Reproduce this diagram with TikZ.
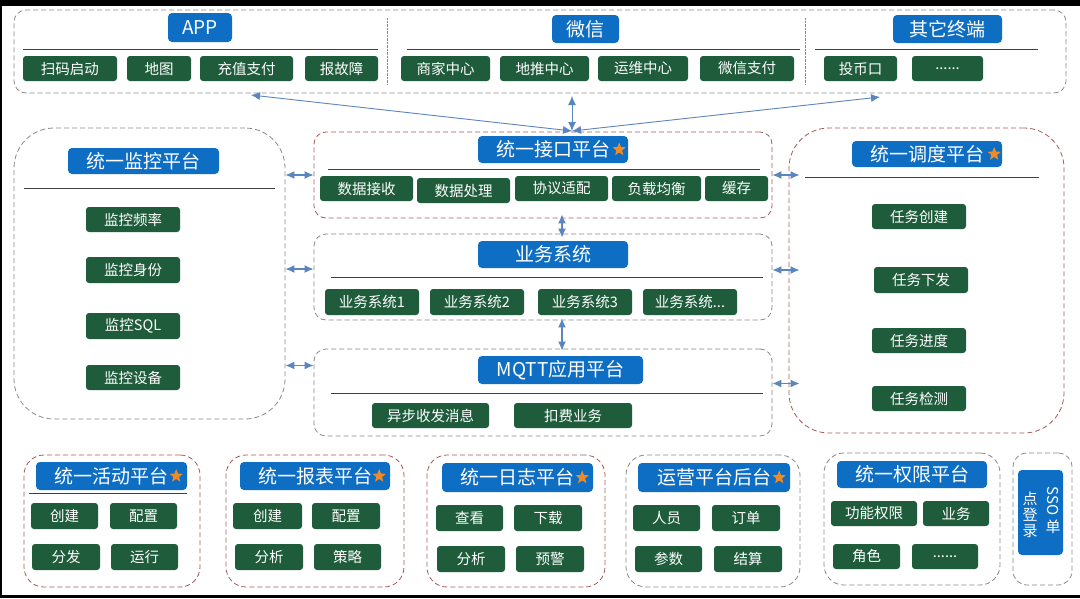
\documentclass[tikz,border=0pt]{standalone}
\usepackage{fontspec}
\setmainfont{Noto Sans CJK SC}
\usetikzlibrary{fit, calc, arrows.meta, shapes.geometric}
\definecolor{hdblue}{HTML}{0E6EC4}
\definecolor{gnbox}{HTML}{1E5C3B}
\definecolor{lnblue}{HTML}{5A85BE}
\definecolor{dashgray}{HTML}{8A8A8A}
\definecolor{dashred}{HTML}{A55B5B}
\definecolor{starorg}{HTML}{F08A24}
\newcommand{\pn}[4]{\node[#1, fit={(#3) (#4)}] (#2) {};}
\newcommand{\bx}[5]{\node[#1, fit={(#3) (#4)}] (#2) {};
  \node[#1 txt] (#2t) at (#2.center) {#5};}

\begin{document}
\begin{tikzpicture}[x=1pt, y=-1pt,
    panel/.style={draw=dashgray, line width=0.8pt, dash pattern=on 5pt off 3pt, rounded corners=#1, inner sep=0pt},
    panel/.default=12pt,
    rpanel/.style={panel=#1, draw=dashred},
    rpanel/.default=12pt,
    hdbox/.style={fill=hdblue, rounded corners=4pt, inner sep=0pt},
    hdbox txt/.style={text=white, inner sep=0pt, font=\fontsize{19}{22}\selectfont},
    gitem/.style={fill=gnbox, rounded corners=3pt, inner sep=0pt},
    gitem txt/.style={text=white, inner sep=0pt, font=\fontsize{14.5}{17}\selectfont},
    hline/.style={draw=black!75, line width=1pt},
    link/.style={draw=lnblue, line width=1.3pt, {Latex[length=9pt,width=8pt]}-{Latex[length=9pt,width=8pt]}},
    tlink/.style={link, line width=0.9pt},
    hstar/.style={star, star points=5, star point ratio=2.3, fill=starorg, inner sep=0pt, minimum size=14pt}]
        %sfondo
        \fill[black] (0,0) rectangle (1080,598);
        \fill[white] (2,6) rectangle (1080,595);
        \useasboundingbox (0,0) rectangle (1080,598);
        %terminali in alto
        \pn{panel}{top}{14,10}{1066,93}
        \draw[dashgray, densely dotted] (387,18) -- (387,84);
        \draw[dashgray, densely dotted] (805,18) -- (805,84);
        \bx{hdbox}{app}{168,13}{232,42}{APP}
        \draw[hline] (23,49) -- (378,49);
        \bx{gitem}{scan}{23,56}{117,81}{扫码启动}
        \bx{gitem}{map}{127,56}{191,81}{地图}
        \bx{gitem}{pay}{200,56}{293,81}{充值支付}
        \bx{gitem}{fault}{305,56}{378,81}{报故障}
        \bx{hdbox}{wx}{552,15}{619,43}{微信}
        \draw[hline] (407,49) -- (800,49);
        \bx{gitem}{shop}{401,56}{490,81}{商家中心}
        \bx{gitem}{push}{500,56}{589,81}{地推中心}
        \bx{gitem}{ops}{598,56}{688,81}{运维中心}
        \bx{gitem}{wxpay}{700,56}{794,81}{微信支付}
        \bx{hdbox}{other}{893,15}{1002,43}{其它终端}
        \draw[hline] (815,49) -- (1038,49);
        \bx{gitem}{coin}{824,56}{897,81}{投币口}
        \bx{gitem}{more}{912,56}{983,81}{......}
        %monitoraggio
        \pn{panel=40pt}{mon}{14,128}{285,419}
        \bx{hdbox}{monhd}{68,148}{219,174}{统一监控平台}
        \draw[hline] (24,188) -- (275,188);
        \bx{gitem}{freq}{86,207}{180,232}{监控频率}
        \bx{gitem}{ident}{86,257}{180,283}{监控身份}
        \bx{gitem}{sql}{86,313}{180,339}{监控SQL}
        \bx{gitem}{dev}{86,365}{180,390}{监控设备}
        %interfaccia
        \pn{rpanel}{jk}{314,132}{772,218}
        \bx{hdbox}{jkhd}{478,136}{628,163}{统一接口平台}
        \node[hstar] (jkstar) at ($(jkhd.east)+(-9,0)$) {};
        \draw[hline] (328,169) -- (760,169);
        \bx{gitem}{recv}{320,176}{413,201}{数据接收}
        \bx{gitem}{proc}{417,178}{510,203}{数据处理}
        \bx{gitem}{proto}{515,176}{608,201}{协议适配}
        \bx{gitem}{lb}{612,176}{701,201}{负载均衡}
        \bx{gitem}{cache}{705,176}{768,201}{缓存}
        %sistemi
        \pn{panel}{yw}{314,234}{772,320}
        \bx{hdbox}{ywhd}{478,241}{628,268}{业务系统}
        \draw[hline] (331,277) -- (763,277);
        \bx{gitem}{sys1}{325,289}{419,315}{业务系统1}
        \bx{gitem}{sys2}{430,289}{524,315}{业务系统2}
        \bx{gitem}{sys3}{538,289}{632,315}{业务系统3}
        \bx{gitem}{sysn}{643,289}{737,315}{业务系统...}
        %mqtt
        \pn{panel}{mq}{314,349}{772,436}
        \bx{hdbox}{mqhd}{478,356}{643,384}{MQTT应用平台}
        \draw[hline] (331,393) -- (763,393);
        \bx{gitem}{async}{372,403}{489,428}{异步收发消息}
        \bx{gitem}{fee}{514,403}{632,428}{扣费业务}
        %schedulazione
        \pn{rpanel=40pt}{dd}{789,128}{1064,433}
        \bx{hdbox}{ddhd}{852,141}{1002,167}{统一调度平台}
        \node[hstar] (ddstar) at ($(ddhd.east)+(-8,0)$) {};
        \draw[hline] (805,177) -- (1039,177);
        \bx{gitem}{tnew}{872,204}{966,229}{任务创建}
        \bx{gitem}{tsend}{874,267}{968,293}{任务下发}
        \bx{gitem}{tprog}{872,328}{966,353}{任务进度}
        \bx{gitem}{tchk}{872,386}{966,411}{任务检测}
        %frecce
        \coordinate (hub) at (572,131);
        \coordinate (tl) at (251,95);
        \coordinate (tm) at (572,96);
        \coordinate (tr) at (880,97);
        \draw[tlink] (hub) -- (tl);
        \draw[tlink] (hub) -- (tm);
        \draw[tlink] (hub) -- (tr);
        \draw[link] (mon.east |- jk.west) -- (jk.west);
        \draw[link] ($(mon.east |- yw.west)+(0,-8)$) -- ($(yw.west)+(0,-8)$);
        \draw[link] ($(mon.east |- mq.west)+(0,-27)$) -- ($(mq.west)+(0,-27)$);
        \draw[link] (jk.east) -- ($(dd.west |- jk.east)+(11,0)$);
        \draw[link] ($(yw.east)+(0,-7)$) -- ($(dd.west |- yw.east)+(11,-7)$);
        \draw[link] ($(mq.east)+(0,-9)$) -- ($(dd.west |- mq.east)+(11,-9)$);
        \draw[link] ($(jk.south)+(19,-4)$) -- ($(yw.north)+(19,4)$);
        \draw[link] ($(yw.south)+(19,-2)$) -- ($(mq.north)+(19,2)$);
        %piattaforme in basso
        \pn{rpanel=20pt}{act}{24,455}{200,587}
        \bx{hdbox}{acthd}{36,462}{187,490}{统一活动平台}
        \node[hstar] (actstar) at ($(acthd.east)+(-11,0)$) {};
        \draw[hline] (29,493) -- (187,493);
        \bx{gitem}{acnew}{31,503}{98,529}{创建}
        \bx{gitem}{accfg}{110,503}{177,529}{配置}
        \bx{gitem}{acdist}{32,544}{100,570}{分发}
        \bx{gitem}{acrun}{111,544}{178,570}{运行}
        \pn{rpanel=20pt}{rpt}{226,455}{404,587}
        \bx{hdbox}{rpthd}{240,462}{390,490}{统一报表平台}
        \node[hstar] (rptstar) at ($(rpthd.east)+(-11,0)$) {};
        \bx{gitem}{rpnew}{233,503}{302,529}{创建}
        \bx{gitem}{rpcfg}{312,503}{380,529}{配置}
        \bx{gitem}{rpana}{235,544}{303,570}{分析}
        \bx{gitem}{rpstr}{314,544}{381,570}{策略}
        \pn{rpanel=20pt}{log}{427,455}{605,587}
        \bx{hdbox}{loghd}{442,463}{593,492}{统一日志平台}
        \node[hstar] (logstar) at ($(loghd.east)+(-11,0)$) {};
        \bx{gitem}{lgview}{436,505}{503,531}{查看}
        \bx{gitem}{lgdown}{514,505}{582,531}{下载}
        \bx{gitem}{lgana}{437,546}{505,572}{分析}
        \bx{gitem}{lgwarn}{516,546}{584,572}{预警}
        \pn{panel=20pt}{opr}{626,455}{800,587}
        \bx{hdbox}{oprhd}{638,463}{790,492}{运营平台后台}
        \node[hstar] (oprstar) at ($(oprhd.east)+(-11,0)$) {};
        \bx{gitem}{opstaff}{633,505}{700,531}{人员}
        \bx{gitem}{oporder}{712,505}{780,531}{订单}
        \bx{gitem}{opparam}{635,546}{702,572}{参数}
        \bx{gitem}{opsettle}{714,546}{782,572}{结算}
        \pn{panel=20pt}{auth}{824,453}{1000,585}
        \bx{hdbox}{authhd}{837,461}{987,488}{统一权限平台}
        \bx{gitem}{aufunc}{831,501}{917,526}{功能权限}
        \bx{gitem}{aubiz}{923,501}{989,526}{业务}
        \bx{gitem}{aurole}{833,544}{900,569}{角色}
        \bx{gitem}{aumore}{912,544}{978,569}{......}
        %sso
        \pn{panel=14pt}{sso}{1013,453}{1072,585}
        \pn{hdbox}{ssohd}{1018,470}{1063,555}
        \node[rotate=-90, text=white, inner sep=0pt, font=\fontsize{15}{17}\selectfont] (ssoa) at (1053,501) {SSO};
        \node[text=white, inner sep=0pt, font=\fontsize{15}{17}\selectfont] (ssob) at (1053,527) {单};
        \node[text=white, font=\fontsize{15}{17}\selectfont, align=center, inner sep=0pt] (ssoc) at (1030,515) {点\\[-1pt]登\\[-1pt]录};
    \end{tikzpicture}
\end{document}
